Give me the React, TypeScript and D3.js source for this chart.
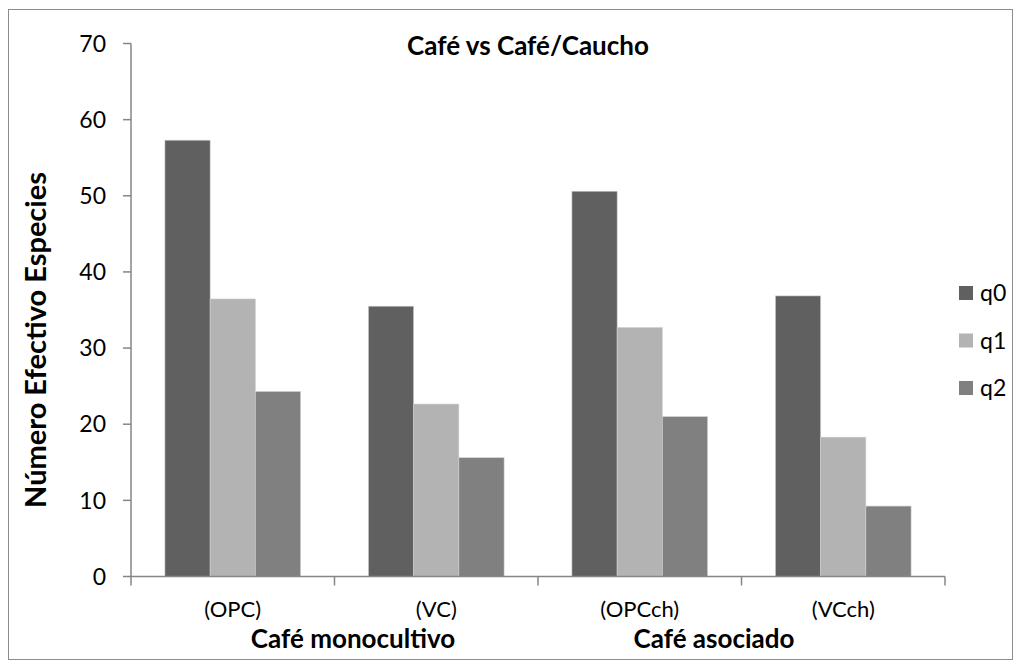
import React from "react";
import * as d3 from "d3";

const WIDTH = 1022;
const HEIGHT = 666;
const FONT = "Lato, 'Open Sans', sans-serif";

const categories = ["(OPC)", "(VC)", "(OPCch)", "(VCch)"];
const seriesNames = ["q0", "q1", "q2"];
const q0 = [57.3, 35.5, 50.6, 36.85];
const q1 = [36.45, 22.65, 32.7, 18.3];
const q2 = [24.3, 15.6, 21.0, 9.25];
const seriesValues = [q0, q1, q2];
const colors = ["#606060", "#b3b3b3", "#808080"];
const yTicks = [0, 10, 20, 30, 40, 50, 60, 70];
const groups = [
  { label: "Café monocultivo", x: 353 },
  { label: "Café asociado", x: 714 },
];

const PLOT = { left: 131, right: 945, top: 43.5, bottom: 576.5 };

export default function App() {
  const xScale = d3
    .scaleBand()
    .domain(categories)
    .range([PLOT.left, PLOT.right])
    .paddingInner(0)
    .paddingOuter(0);

  const yScale = d3.scaleLinear().domain([0, 70]).range([PLOT.bottom, PLOT.top]);

  const bw = xScale.bandwidth();
  const barWidth = bw / (3 + 1.5);
  const gap = barWidth * 0.75;

  const axisColor = "#868686";

  return (
    <svg
      width={WIDTH}
      height={HEIGHT}
      style={{ position: "absolute", left: 0, top: 0 }}
      fontFamily={FONT}
    >
      <rect x={0} y={0} width={WIDTH} height={HEIGHT} fill="#fff" />
      <rect
        x={8.5}
        y={9.5}
        width={1004}
        height={650}
        fill="none"
        stroke="#8c8c8c"
        strokeWidth={1}
      />

      {/* title */}
      <text x={528} y={55} textAnchor="middle" fontSize={26} fontWeight="bold" fill="#000">
        Café vs Café/Caucho
      </text>

      {/* bars */}
      {seriesValues.map((vals, si) =>
        vals.map((v, ci) => {
          const x = (xScale(categories[ci]) ?? 0) + gap + si * barWidth;
          return (
            <rect
              key={`${si}-${ci}`}
              x={x}
              y={yScale(v)}
              width={barWidth}
              height={yScale(0) - yScale(v)}
              fill={colors[si]}
              stroke="#d0d0d0"
              strokeWidth={0.6}
            />
          );
        })
      )}

      {/* y axis */}
      <line x1={PLOT.left} x2={PLOT.left} y1={PLOT.top} y2={PLOT.bottom} stroke={axisColor} strokeWidth={1.5} />
      {yTicks.map((t) => (
        <g key={t}>
          <line
            x1={PLOT.left - 8}
            x2={PLOT.left}
            y1={yScale(t)}
            y2={yScale(t)}
            stroke={axisColor}
            strokeWidth={1.5}
          />
          <text
            x={106}
            y={yScale(t)}
            dy="0.36em"
            textAnchor="end"
            fontSize={23}
            fill="#000"
          >
            {t}
          </text>
        </g>
      ))}

      {/* x axis */}
      <line x1={PLOT.left} x2={PLOT.right} y1={PLOT.bottom} y2={PLOT.bottom} stroke={axisColor} strokeWidth={1.5} />
      {[...categories.map((c) => xScale(c) ?? 0), PLOT.right].map((x, i) => (
        <line
          key={i}
          x1={x}
          x2={x}
          y1={PLOT.bottom}
          y2={PLOT.bottom + 9}
          stroke={axisColor}
          strokeWidth={1.5}
        />
      ))}
      {categories.map((c) => (
        <text
          key={c}
          x={(xScale(c) ?? 0) + bw / 2}
          y={617}
          textAnchor="middle"
          fontSize={22}
          fill="#000"
        >
          {c}
        </text>
      ))}
      {groups.map((g) => (
        <text
          key={g.label}
          x={g.x}
          y={648}
          textAnchor="middle"
          fontSize={26}
          fontWeight="bold"
          fill="#000"
        >
          {g.label}
        </text>
      ))}

      {/* y axis title */}
      <text
        transform={`translate(46,340) rotate(-90)`}
        textAnchor="middle"
        fontSize={29}
        fontWeight="bold"
        fill="#000"
      >
        Número Efectivo Especies
      </text>

      {/* legend */}
      {seriesNames.map((s, i) => (
        <g key={s} transform={`translate(959,${293 + i * 47.5})`}>
          <rect x={0} y={-7} width={14} height={14} fill={colors[i]} />
          <text x={21} y={0} dy="0.36em" fontSize={23} fill="#000">
            {s}
          </text>
        </g>
      ))}
    </svg>
  );
}
